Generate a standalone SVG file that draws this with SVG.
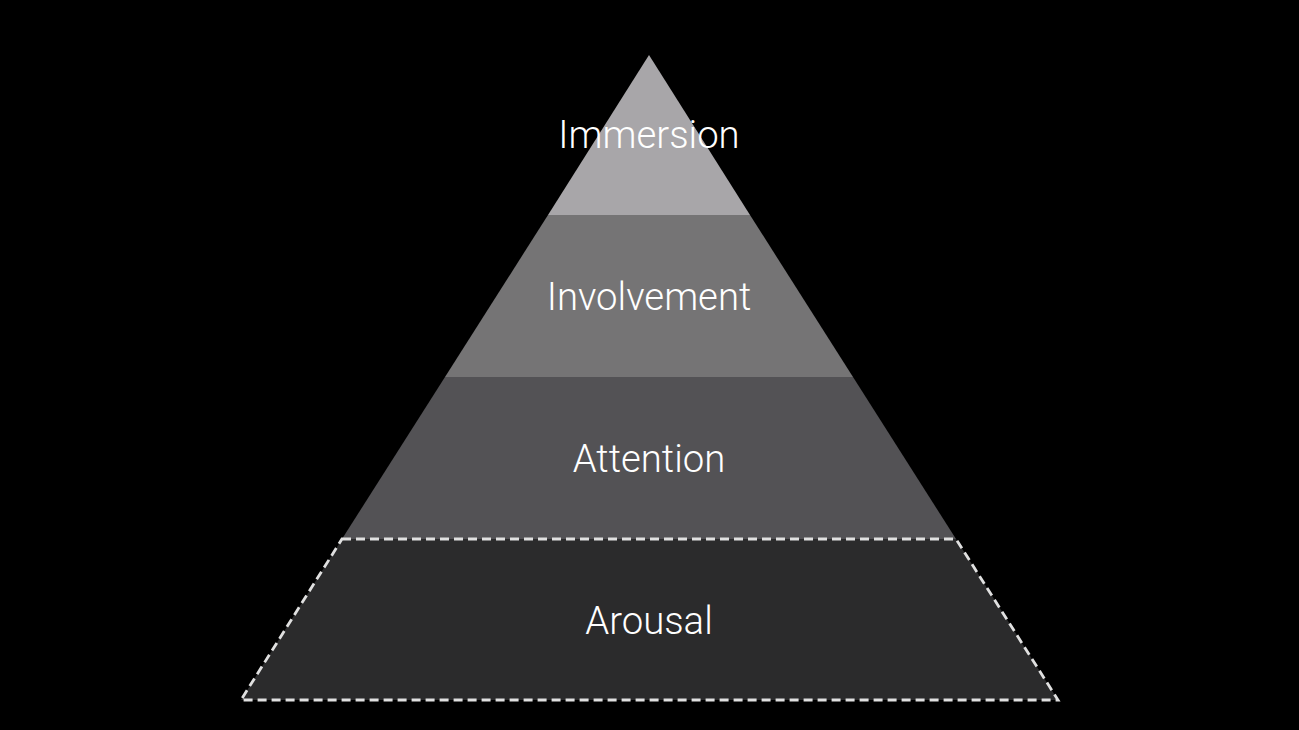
<svg xmlns="http://www.w3.org/2000/svg" width="1299" height="730" viewBox="0 0 1299 730">
<style>
.lbl{font-family:Roboto,"Liberation Sans",sans-serif;font-weight:300;font-size:38.3px;fill:#ffffff;text-anchor:middle}
</style>
<rect width="1299" height="730" fill="#000000"/>
<g id="immersion">
<polygon points="649,55 750,215 548,215" fill="#a8a6a9"/>
<text class="lbl" x="649" y="148">Immersion</text>
</g>
<g id="involvement">
<polygon points="548,215 750,215 853,377 445,377" fill="#757475"/>
<text class="lbl" x="649" y="310">Involvement</text>
</g>
<g id="attention">
<polygon points="445,377 853,377 956,539 342,539" fill="#535255"/>
<text class="lbl" x="649" y="472">Attention</text>
</g>
<g id="arousal">
<polygon points="342,539 956,539 1058,700 241,700" fill="#2b2b2c" stroke="#e0e0e0" stroke-width="2.8" stroke-dasharray="9,5"/>
<text class="lbl" x="649" y="634">Arousal</text>
</g>
<g id="connectors"/>
</svg>
